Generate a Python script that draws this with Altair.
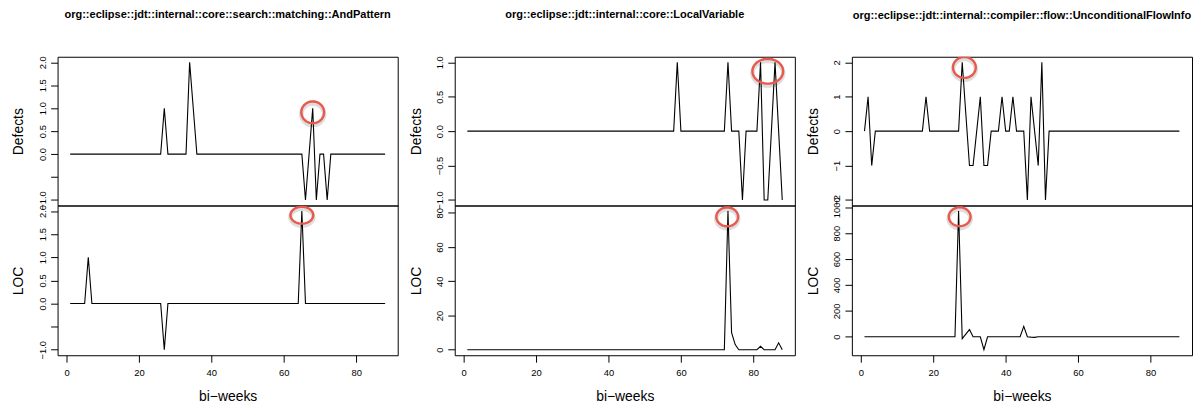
import altair as alt
import pandas as pd
import numpy as np

# ---------------- data ----------------
weeks = list(range(1, 89))

defects_and = [
    0, 0, 0, 0, 0, 0, 0, 0, 0, 0,
    0, 0, 0, 0, 0, 0, 0, 0, 0, 0,
    0, 0, 0, 0, 0, 0, 1, 0, 0, 0,
    0, 0, 0, 2, 1, 0, 0, 0, 0, 0,
    0, 0, 0, 0, 0, 0, 0, 0, 0, 0,
    0, 0, 0, 0, 0, 0, 0, 0, 0, 0,
    0, 0, 0, 0, 0, -1, 0, 1, -1, 0,
    0, -1, 0, 0, 0, 0, 0, 0, 0, 0,
    0, 0, 0, 0, 0, 0, 0, 0,
]
loc_and = [
    0, 0, 0, 0, 0, 1, 0, 0, 0, 0,
    0, 0, 0, 0, 0, 0, 0, 0, 0, 0,
    0, 0, 0, 0, 0, 0, -1, 0, 0, 0,
    0, 0, 0, 0, 0, 0, 0, 0, 0, 0,
    0, 0, 0, 0, 0, 0, 0, 0, 0, 0,
    0, 0, 0, 0, 0, 0, 0, 0, 0, 0,
    0, 0, 0, 0, 2, 0, 0, 0, 0, 0,
    0, 0, 0, 0, 0, 0, 0, 0, 0, 0,
    0, 0, 0, 0, 0, 0, 0, 0,
]
defects_lv = [
    0, 0, 0, 0, 0, 0, 0, 0, 0, 0,
    0, 0, 0, 0, 0, 0, 0, 0, 0, 0,
    0, 0, 0, 0, 0, 0, 0, 0, 0, 0,
    0, 0, 0, 0, 0, 0, 0, 0, 0, 0,
    0, 0, 0, 0, 0, 0, 0, 0, 0, 0,
    0, 0, 0, 0, 0, 0, 0, 0, 1, 0,
    0, 0, 0, 0, 0, 0, 0, 0, 0, 0,
    0, 0, 1, 0, 0, 0, -1, 0, 0, 0,
    0, 1, -1, -1, 0, 1, 0, -1,
]
loc_lv = [
    0, 0, 0, 0, 0, 0, 0, 0, 0, 0,
    0, 0, 0, 0, 0, 0, 0, 0, 0, 0,
    0, 0, 0, 0, 0, 0, 0, 0, 0, 0,
    0, 0, 0, 0, 0, 0, 0, 0, 0, 0,
    0, 0, 0, 0, 0, 0, 0, 0, 0, 0,
    0, 0, 0, 0, 0, 0, 0, 0, 0, 0,
    0, 0, 0, 0, 0, 0, 0, 0, 0, 0,
    0, 0, 81, 10, 3, 0, 0, 0, 0, 0,
    0, 2, 0, 0, 0, 0, 4, 0,
]
defects_ufi = [
    0, 1, -1, 0, 0, 0, 0, 0, 0, 0,
    0, 0, 0, 0, 0, 0, 0, 1, 0, 0,
    0, 0, 0, 0, 0, 0, 0, 2, 0.5, -1,
    -1, 0, 1, -1, -1, 0, 0, 0, 1, 0,
    0, 1, 0, 0, 0, -2, 1, 0, -1, 2,
    -2, 0, 0, 0, 0, 0, 0, 0, 0, 0,
    0, 0, 0, 0, 0, 0, 0, 0, 0, 0,
    0, 0, 0, 0, 0, 0, 0, 0, 0, 0,
    0, 0, 0, 0, 0, 0, 0, 0,
]
loc_ufi = [
    0, 0, 0, 0, 0, 0, 0, 0, 0, 0,
    0, 0, 0, 0, 0, 0, 0, 0, 0, 0,
    0, 0, 0, 0, 0, 0, 970, -15, 20, 55,
    0, 0, 0, -100, 0, 0, 0, 0, 0, 0,
    0, 0, 0, 0, 80, 0, -3, -5, 0, 0,
    0, 0, 0, 0, 0, 0, 0, 0, 0, 0,
    0, 0, 0, 0, 0, 0, 0, 0, 0, 0,
    0, 0, 0, 0, 0, 0, 0, 0, 0, 0,
    0, 0, 0, 0, 0, 0, 0, 0,
]

titles = [
    "org::eclipse::jdt::internal::core::search::matching::AndPattern",
    "org::eclipse::jdt::internal::core::LocalVariable",
    "org::eclipse::jdt::internal::compiler::flow::UnconditionalFlowInfo",
]
defects_series = [defects_and, defects_lv, defects_ufi]
loc_series = [loc_and, loc_lv, loc_ufi]

x_ticks = [0, 20, 40, 60, 80]
defects_ticks = [[-1, -0.5, 0, 0.5, 1, 1.5, 2], [-1, -0.5, 0, 0.5, 1], [-2, -1, 0, 1, 2]]
loc_ticks = [[-1, -0.5, 0, 0.5, 1, 1.5, 2], [0, 20, 40, 60, 80], [0, 200, 400, 600, 800, 1000]]
defects_fmt = [".1f", ".1f", "d"]
loc_fmt = [".1f", "d", "d"]
defects_hidden = [[-0.5], [], []]
loc_hidden = [[-0.5], [], []]

# highlighted points (red rings)
ring_def_x = [68, 84, 28.6]
ring_def_y = [0.91, 0.87, 1.85]
ring_loc_x = [65, 72.8, 27.3]
ring_loc_y = [1.91, 77.6, 926]

# ---------------- styling ----------------
FONT = "Liberation Sans"
RED = "#ea594d"
ring_def_wh = [(23, 22), (31, 25), (23, 21)]
ring_loc_wh = [(23, 17), (22, 19), (22, 19)]
widths = [343, 343, 343]
TOP_H = 150
BOT_H = 151


def ellipse_path(ratio, n=48):
    pts = []
    for i in range(n):
        t = 2 * np.pi * i / n
        pts.append(f"{np.cos(t):.4f},{ratio * np.sin(t):.4f}")
    return "M" + "L".join(pts) + "Z"


def panel(values, ticks, fmt, hidden, ytitle, rx, ry, wh, width, height, show_x, title=None):
    df = pd.DataFrame({"week": weeks, "value": values})
    lo, hi = min(values), max(values)
    pad = 0.04 * (hi - lo)
    xlo, xhi = min(weeks), max(weeks)
    xpad = 0.04 * (xhi - xlo)
    if show_x:
        xaxis = alt.Axis(values=x_ticks, tickSize=7, labelPadding=5, labelFontSize=9.5,
                         title="bi\u2212weeks", titleFontSize=14, titlePadding=13,
                         titleFontWeight="normal",
                         domain=False, grid=False, labelFlush=False, labelOverlap=False,
                         format="d")
    else:
        xaxis = None
    yaxis_kw = dict(values=ticks, format=fmt, tickSize=7, labelPadding=5, labelFontSize=9.5,
                    labelAngle=270, labelAlign="center", labelBaseline="alphabetic",
                    title=ytitle, titleFontSize=14, titlePadding=12, titleFontWeight="normal",
                    domain=False, grid=False, labelFlush=False, labelOverlap=False)
    if hidden:
        cond = " || ".join(f"datum.value == {h}" for h in hidden)
        yaxis_kw["labelExpr"] = f"({cond}) ? '' : datum.label"
    yaxis = alt.Axis(**yaxis_kw)
    x = alt.X("week:Q", scale=alt.Scale(domain=[xlo - xpad, xhi + xpad], nice=False, zero=False),
              axis=xaxis)
    y = alt.Y("value:Q", scale=alt.Scale(domain=[lo - pad, hi + pad], nice=False, zero=False),
              axis=yaxis)
    line = alt.Chart(df).mark_line(color="black", strokeWidth=1.1).encode(x=x, y=y)
    rdf = pd.DataFrame({"week": [rx], "value": [ry]})
    shape = ellipse_path(wh[1] / wh[0])
    shadow = alt.Chart(rdf).mark_point(shape=shape, size=wh[0] ** 2, filled=False, color="#000000",
                                       opacity=0.13, strokeWidth=4.5, yOffset=2,
                                       strokeJoin="round", clip=True).encode(x=x, y=y)
    ring = alt.Chart(rdf).mark_point(shape=shape, size=wh[0] ** 2, filled=False, color=RED,
                                     opacity=1, strokeWidth=2.4, strokeJoin="round",
                                     clip=True).encode(x=x, y=y)
    props = dict(width=width, height=height)
    if title is not None:
        props["title"] = alt.TitleParams(title, font=FONT, fontSize=11.1, fontWeight="bold",
                                         anchor="middle", frame="group", offset=35.5,
                                         color="black")
    return alt.layer(line, shadow, ring).properties(**props)


tops, bots = [], []
for i in range(3):
    tops.append(panel(defects_series[i], defects_ticks[i], defects_fmt[i], defects_hidden[i],
                      "Defects", ring_def_x[i], ring_def_y[i], ring_def_wh[i], widths[i], TOP_H,
                      False, title=titles[i]))
    bots.append(panel(loc_series[i], loc_ticks[i], loc_fmt[i], loc_hidden[i], "LOC",
                      ring_loc_x[i], ring_loc_y[i], ring_loc_wh[i], widths[i], BOT_H, True))

chart = (
    alt.concat(*tops, *bots, columns=3, spacing={"row": 0, "column": 57.5}, bounds="flush")
    .resolve_scale(x="independent", y="independent")
    .properties(padding={"left": 3, "top": -1.5, "right": 0, "bottom": 0})
    .configure_view(stroke="black", strokeWidth=1)
    .configure_axis(labelFont=FONT, titleFont=FONT, labelColor="black", titleColor="black",
                    tickColor="black", titleFontWeight="normal", tickWidth=1)
)

chart.save("out.html", embed_options={"renderer": "svg", "actions": False})
